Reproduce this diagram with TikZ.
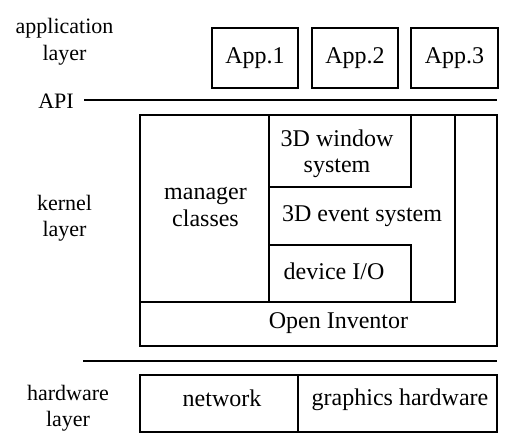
\documentclass[tikz,border=0pt]{standalone}
\usepackage{fontspec}
\setmainfont{Liberation Serif}
\begin{document}
\begin{tikzpicture}[x=1pt,y=-1pt,
  box/.style={draw,line width=2.8pt,inner sep=0pt,rectangle},
  txt/.style={font=\fontsize{24}{26.5}\selectfont,align=center,inner sep=0pt},
  side/.style={font=\fontsize{22}{26.5}\selectfont,align=center,inner sep=0pt},
  rule/.style={line width=2.2pt}]
\useasboundingbox (0,0) rectangle (508,442);
% application layer
\node[side] (applab) at (64.5,41.5) {application\\layer};
\node[box,txt,minimum width=86pt,minimum height=60pt] (app1) at (255,58) {App.1};
\node[box,txt,minimum width=86pt,minimum height=60pt] (app2) at (355,58) {App.2};
\node[box,txt,minimum width=87pt,minimum height=60pt] (app3) at (454.5,58) {App.3};
% API
\node[side] (api) at (56,101) {API};
\coordinate (apistart) at (84,100);
\coordinate (apiend) at (497,100);
\draw[rule] (apistart) -- (apiend);
% kernel layer
\node[side] (kerlab) at (64.5,218) {kernel\\layer};
\node[box,minimum width=357pt,minimum height=231pt] (kernel) at (318.5,230.5) {};
\node[box,minimum width=129pt,minimum height=187pt] (manager) at (204.5,208.5) {};
\node[box,minimum width=186pt,minimum height=187pt] (event) at (362,208.5) {};
\node[box,minimum width=142pt,minimum height=72pt] (window) at (340,151) {};
\node[box,minimum width=142pt,minimum height=57pt] (device) at (340,273.5) {};
\node[txt] (managertxt) at (205.5,207) {manager\\classes};
\node[txt] (windowtxt) at (337,154) {3D window\\system};
\node[txt] (devicetxt) at (334,271) {device I/O};
\node[txt] (eventtxt) at (362,216.5) {3D event system};
\node[txt] (oi) at (338.5,323) {Open Inventor};
% separator
\coordinate (sepstart) at (83,361);
\coordinate (sepend) at (497,361);
\draw[rule] (sepstart) -- (sepend);
% hardware layer
\node[side] (hwlab) at (68,408) {hardware\\layer};
\node[box,minimum width=158pt,minimum height=57pt] (network) at (219,403.5) {};
\node[box,minimum width=199pt,minimum height=57pt] (graphics) at (397.5,403.5) {};
\node[txt] (networktxt) at (222,398) {network};
\node[txt] (graphicstxt) at (400,400) {graphics hardware};
\end{tikzpicture}
\end{document}
